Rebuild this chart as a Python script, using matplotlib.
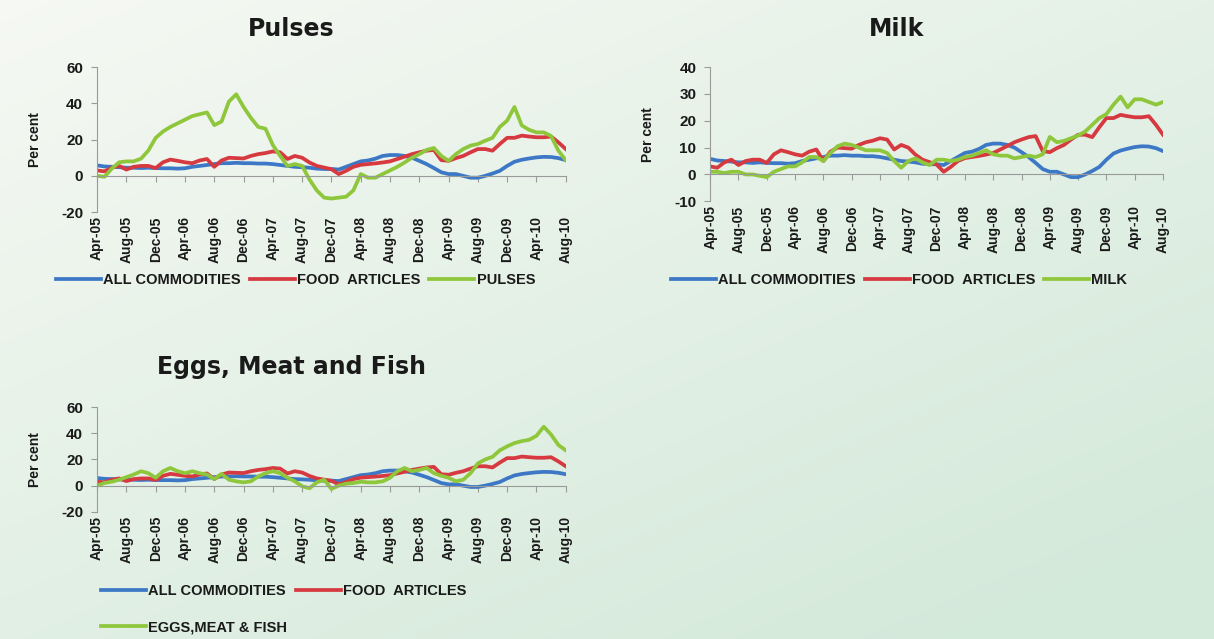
import numpy as np
import matplotlib
matplotlib.use("Agg")
import matplotlib.pyplot as plt

# --- monthly inflation data (per cent), Apr-05 .. Aug-10 ---
tick_labels = ["Apr-05", "Aug-05", "Dec-05", "Apr-06", "Aug-06", "Dec-06",
               "Apr-07", "Aug-07", "Dec-07", "Apr-08", "Aug-08", "Dec-08",
               "Apr-09", "Aug-09", "Dec-09", "Apr-10", "Aug-10"]

all_commodities = [5.8, 5.2, 5.0, 4.8, 4.5, 4.5, 4.3, 4.5, 4.3, 4.2, 4.2, 4.0, 4.2,
                   5.0, 5.5, 6.0, 6.5, 7.0, 7.0, 7.2, 7.0, 7.0, 6.8, 6.8, 6.5, 6.0,
                   5.5, 5.0, 4.8, 4.5, 4.0, 3.8, 3.8, 3.5, 5.0, 6.5, 8.0, 8.5, 9.5,
                   11.0, 11.5, 11.5, 11.0, 10.0, 8.3, 6.5, 4.3, 2.0, 1.0, 1.0, 0.0,
                   -1.0, -1.0, 0.0, 1.3, 2.8, 5.5, 7.8, 8.9, 9.6, 10.2, 10.5, 10.4,
                   9.8, 8.7]

food_articles = [3.0, 2.5, 4.5, 5.5, 3.5, 5.0, 5.5, 5.5, 4.3, 7.5, 9.0, 8.3, 7.5,
                 7.0, 8.5, 9.3, 5.0, 8.5, 10.0, 9.8, 9.6, 11.0, 12.0, 12.6, 13.5,
                 13.0, 9.3, 11.0, 10.0, 7.4, 5.5, 4.6, 3.7, 1.0, 2.8, 5.0, 6.1,
                 6.5, 6.9, 7.4, 8.0, 9.3, 10.6, 12.0, 13.0, 13.9, 14.3, 8.7, 8.3,
                 9.8, 11.0, 13.0, 14.8, 14.8, 13.9, 17.6, 21.0, 21.0, 22.2, 21.7,
                 21.3, 21.3, 21.7, 18.5, 14.8]

pulses = [0.0, -0.5, 4.0, 7.5, 8.0, 8.0, 9.5, 14.0, 21.0, 24.5, 27.0, 29.0, 31.0,
          33.0, 34.0, 35.0, 28.0, 30.0, 41.0, 45.0, 38.0, 32.0, 27.0, 26.0, 17.0,
          11.0, 5.5, 6.5, 5.5, -2.0, -8.0, -12.0, -12.5, -12.0, -11.5, -8.0, 1.0,
          -1.0, -1.0, 1.0, 3.0, 5.0, 7.4, 10.0, 12.0, 14.3, 15.4, 11.0, 8.3,
          12.0, 14.8, 16.7, 17.6, 19.4, 21.0, 27.0, 30.5, 38.0, 27.8, 25.4, 24.0,
          24.0, 22.0, 13.9, 8.7]

milk = [1.0, 1.0, 0.5, 1.0, 1.0, 0.0, 0.0, -0.5, -1.0, 1.0, 2.0, 3.0, 3.0, 4.5,
        6.5, 6.5, 5.0, 8.0, 10.5, 11.5, 11.0, 10.0, 9.0, 9.0, 9.0, 8.0, 5.0, 2.5,
        5.0, 6.0, 4.5, 3.5, 5.5, 5.5, 5.0, 5.5, 6.5, 7.0, 8.0, 9.0, 7.5, 7.0, 7.0,
        6.0, 6.5, 7.0, 6.5, 7.5, 14.0, 12.0, 12.5, 13.5, 14.5, 16.0, 18.5, 21.0,
        22.5, 26.0, 29.0, 25.0, 28.0, 28.0, 27.0, 26.0, 27.0]

eggs_meat_fish = [0.0, 2.0, 3.0, 4.5, 6.5, 8.5, 11.0, 9.5, 6.0, 11.0, 13.5, 11.0,
                  9.5, 11.0, 9.5, 8.5, 5.0, 9.0, 4.5, 3.3, 2.5, 3.3, 7.0, 9.5,
                  11.0, 9.5, 6.0, 3.3, -0.5, -2.0, 2.5, 4.5, -2.5, 0.0, 1.5, 2.0,
                  3.0, 2.5, 2.5, 3.3, 6.0, 11.0, 13.5, 11.0, 12.0, 13.5, 9.5, 7.5,
                  6.0, 3.3, 4.5, 9.5, 17.0, 20.0, 22.0, 27.0, 30.0, 32.5, 34.0,
                  35.0, 38.0, 45.0, 39.0, 31.0, 27.0]

BLUE = "#3d78c6"
RED = "#d6393f"
GREEN = "#8fc73c"
AXIS = "#9a9a9a"
TXT = "#1a1a1a"
NARROW = ["Liberation Sans Narrow", "DejaVu Sans Condensed", "Liberation Sans"]

months = np.arange(len(all_commodities))

fig = plt.figure(figsize=(12.14, 6.39), dpi=100)

# --- soft green gradient background ---
bg = fig.add_axes([0, 0, 1, 1], zorder=-5)
gx, gy = np.meshgrid(np.linspace(0, 1, 300), np.linspace(0, 1, 200))
t = np.clip(0.5 * gx + 0.6 * gy, 0, 1)
c0 = np.array([0.965, 0.975, 0.955])
c1 = np.array([0.83, 0.915, 0.855])
img = c0[None, None, :] * (1 - t[..., None]) + c1[None, None, :] * t[..., None]
bg.imshow(img, aspect="auto", extent=[0, 1, 1, 0])
bg.axis("off")


def draw_panel(rect, third, third_name, title, ylim, yticks, title_y):
    ax = fig.add_axes(rect)
    ax.patch.set_alpha(0)
    ax.plot(months, all_commodities, color=BLUE, lw=2.7, label="ALL COMMODITIES")
    ax.plot(months, food_articles, color=RED, lw=2.7, label="FOOD  ARTICLES")
    ax.plot(months, third, color=GREEN, lw=2.7, label=third_name)
    ax.set_xlim(0, len(months) - 1)
    ax.set_ylim(*ylim)
    ax.set_yticks(yticks)
    ax.set_yticklabels([str(v) for v in yticks], fontsize=11,
                       fontweight="bold", color=TXT, family=NARROW)
    for s in ["top", "right"]:
        ax.spines[s].set_visible(False)
    ax.spines["left"].set_color(AXIS)
    ax.spines["bottom"].set_color(AXIS)
    ax.spines["bottom"].set_position(("data", 0))
    ax.tick_params(axis="y", length=4, color=AXIS, pad=6)
    ax.set_xticks(months[::4])
    ax.tick_params(axis="x", length=4, color=AXIS, direction="out",
                   labelbottom=False)
    sec = ax.secondary_xaxis(0)
    sec.set_xticks(months[::4])
    sec.set_xticklabels(tick_labels, rotation=90, fontsize=10,
                        fontweight="bold", color=TXT, family=NARROW)
    sec.tick_params(length=0, pad=3)
    sec.spines["bottom"].set_visible(False)
    ax.set_ylabel("Per cent", fontsize=10, color=TXT, family=NARROW,
                  fontweight="bold", labelpad=14)
    fig.text(rect[0] + rect[2] / 2 - 0.033, title_y, title, fontsize=17,
             fontweight="bold", ha="center", va="center", color=TXT)
    return ax


ax1 = draw_panel([0.080, 0.668, 0.386, 0.227], pulses, "PULSES", "Pulses",
                 (-20, 60), [-20, 0, 20, 40, 60], 0.955)
ax2 = draw_panel([0.585, 0.685, 0.373, 0.210], milk, "MILK", "Milk",
                 (-10, 40), [-10, 0, 10, 20, 30, 40], 0.955)
ax3 = draw_panel([0.080, 0.199, 0.386, 0.164], eggs_meat_fish,
                 "EGGS,MEAT & FISH", "Eggs, Meat and Fish",
                 (-20, 60), [-20, 0, 20, 40, 60], 0.425)

leg_kw = dict(frameon=False, handlelength=3.1, handletextpad=0.15,
              prop={"family": NARROW, "size": 10.5, "weight": "bold"},
              labelcolor=TXT)
ax1.legend(loc="center left", bbox_to_anchor=(-0.116, -0.47), ncol=3,
           columnspacing=0.6, **leg_kw)
ax2.legend(loc="center left", bbox_to_anchor=(-0.116, -0.59), ncol=3,
           columnspacing=0.6, **leg_kw)
# order so the two-column layout reads ALL, FOOD / EGGS row by row
h, l = ax3.get_legend_handles_labels()
ax3.legend([h[0], h[2], h[1]], [l[0], l[2], l[1]], loc="upper left",
           bbox_to_anchor=(-0.02, -0.565), ncol=2, columnspacing=0.6,
           labelspacing=1.5, **leg_kw)

fig.savefig("out.png", dpi=100)
